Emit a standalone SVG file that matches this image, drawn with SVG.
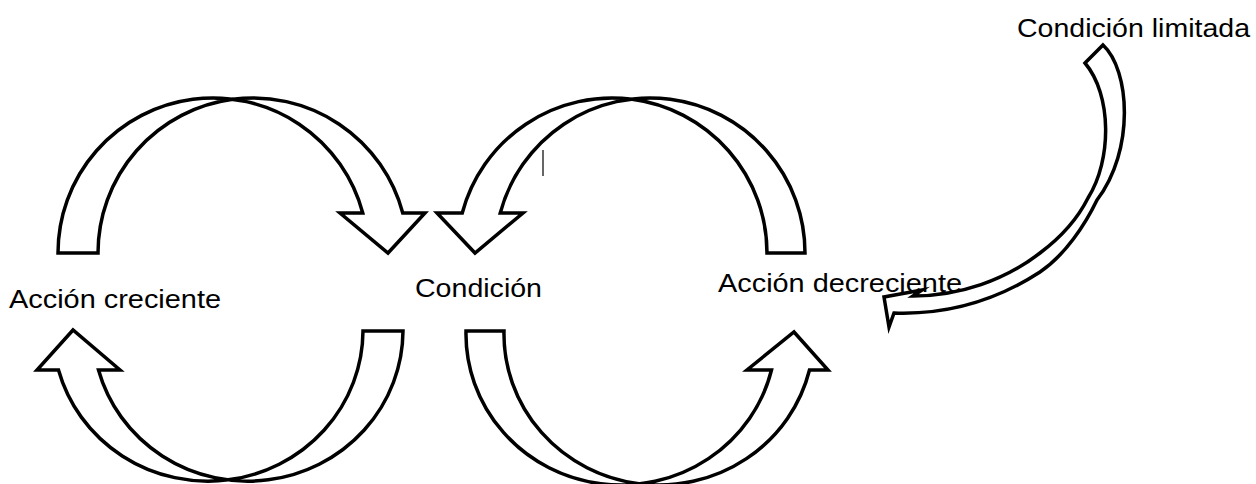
<svg xmlns="http://www.w3.org/2000/svg" width="1256" height="484" viewBox="0 0 1256 484">
<style>
.arr{fill:#ffffff;stroke:#000000;stroke-width:3.5;stroke-linejoin:miter;stroke-miterlimit:10}
.lbl{font-family:"Liberation Sans",Arial,sans-serif;font-size:26px;fill:#000000}
</style>
<rect width="1256" height="484" fill="#ffffff"/>
<g id="connectors">
<path id="arrow-top-left" class="arr" d="M58,253 A155,155 0 0 1 362.75,213 L340,213 L388,253 L425,213 L402.75,213 A155,155 0 0 0 98,253 Z"/>
<path id="arrow-top-right" class="arr" d="M805,253 A155,155 0 0 0 500.25,213 L523,213 L475,253 L437,213 L462.25,213 A155,155 0 0 1 767,253 Z"/>
<path id="arrow-bottom-left" class="arr" d="M403,331 A155,151 0 0 1 98.5,370 L120,370 L73,330 L37,370 L58.5,370 A155,151 0 0 0 363,331 Z"/>
<path id="arrow-bottom-right" class="arr" d="M466,331 A155,151 0 0 0 771.5,370 L747,370 L794,332 L828,370 L809.5,370 A155,151 0 0 1 504,331 Z"/>
<path id="arrow-limit" class="arr" stroke-width="3" d="M1085,63 L1103,45 C1130,70 1135,150 1097,200 C1085,225 1065,255 1040,272 C1000,298 950,315 894,313 L889,327 L884,297 L922,290 L913,296 C960,296 1005,280 1040,253 C1060,238 1078,218 1088,198 C1112,160 1112,95 1085,63 Z"/>
<line id="caret" x1="543" y1="150" x2="543" y2="176" stroke="#333333" stroke-width="1.5"/>
</g>
<g id="node-accion-creciente"><text class="lbl" x="9" y="308" textLength="212" lengthAdjust="spacingAndGlyphs">Acción creciente</text></g>
<g id="node-condicion"><text class="lbl" x="415" y="297" textLength="127" lengthAdjust="spacingAndGlyphs">Condición</text></g>
<g id="node-accion-decreciente"><text class="lbl" x="718" y="292" textLength="244" lengthAdjust="spacingAndGlyphs">Acción decreciente</text></g>
<g id="node-condicion-limitada"><text class="lbl" x="1017" y="37" textLength="233" lengthAdjust="spacingAndGlyphs">Condición limitada</text></g>
</svg>
